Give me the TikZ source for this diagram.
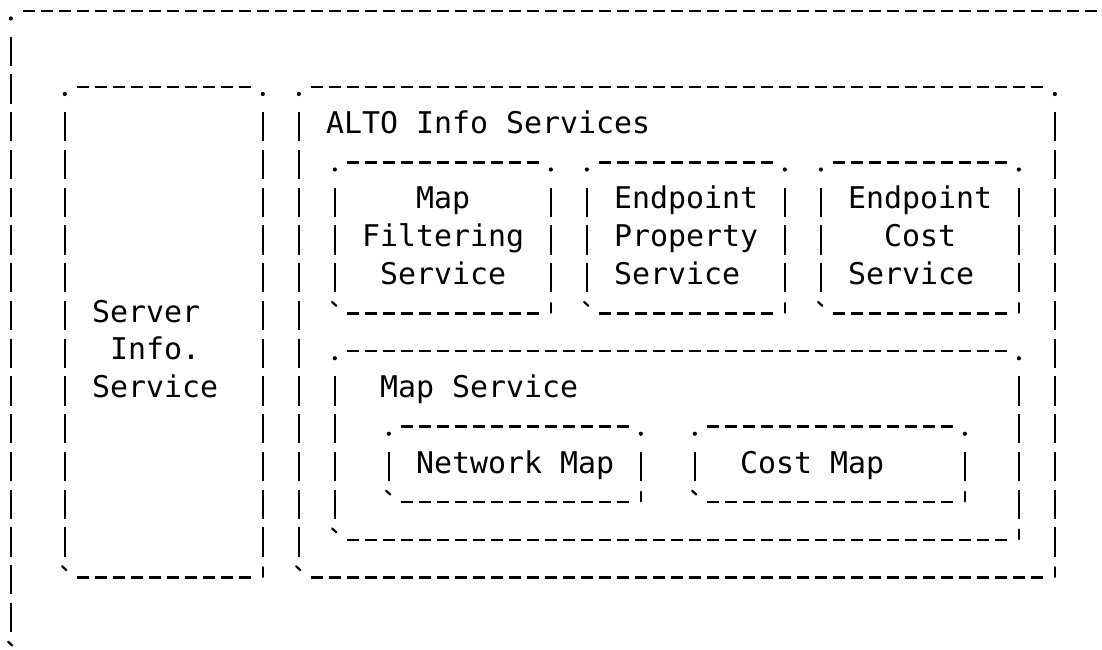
\documentclass[tikz,border=0pt]{standalone}
\usepackage{fontspec}
\newfontfamily\asciifont{DejaVu Sans Mono}

\tikzset{
  hdash/.style={line width=1.2pt, dash pattern=on 6.15pt off 2.85pt},
  vdash/.style={line width=1.3pt, dash pattern=on 14.65pt off 4.225pt},
  tick/.style={line width=1.1pt, line cap=round},
  boxtext/.style={anchor=base west, inner sep=0pt,
    font=\asciifont\fontsize{14.95pt}{18pt}\selectfont},
}

% box drawn like ASCII art: #1,#2 = left column / top row, #3,#4 = right column / bottom row
\newcommand\asciibox[4]{%
  \draw[hdash] (#1+0.658,#2-0.06) -- (#3-0.658,#2-0.06);
  \draw[hdash] (#1+0.658,#4-0.06) -- (#3-0.658,#4-0.06);
  \draw[vdash] (#1,#2+0.612) -- (#1,#4-0.612);
  \draw[vdash] (#3,#2+0.612) -- (#3,#4-0.612);
  \fill (#1,#2+0.13) circle[radius=1.05pt];
  \fill (#3,#2+0.13) circle[radius=1.05pt];
  \draw[tick] (#1-0.15,#4-0.36) -- (#1+0.08,#4-0.26);
  \draw[tick, line width=1.3pt] (#3,#4-0.33) -- (#3,#4-0.08);
}

\begin{document}
\begin{tikzpicture}[x=9pt, y=-18.875pt]
			\clip (-0.6,-0.359) rectangle (60.62,16.833);

			% Riquadri
			\asciibox{0}{0}{64}{17}
			\asciibox{3}{2}{14}{15}
			\asciibox{16}{2}{58}{15}
			\asciibox{18}{4}{30}{8}
			\asciibox{32}{4}{43}{8}
			\asciibox{45}{4}{56}{8}
			\asciibox{18}{9}{56}{14}
			\asciibox{21}{11}{35}{13}
			\asciibox{38}{11}{53}{13}

			% Testi
			\node[boxtext] (srv1) at (4.5,8.172) {Server};
			\node[boxtext] (srv2) at (5.5,9.172) {Info.};
			\node[boxtext] (srv3) at (4.5,10.172) {Service};

			\node[boxtext] (alto) at (17.5,3.172) {ALTO Info Services};

			\node[boxtext] (filt1) at (22.5,5.172) {Map};
			\node[boxtext] (filt2) at (19.5,6.172) {Filtering};
			\node[boxtext] (filt3) at (20.5,7.172) {Service};

			\node[boxtext] (prop1) at (33.5,5.172) {Endpoint};
			\node[boxtext] (prop2) at (33.5,6.172) {Property};
			\node[boxtext] (prop3) at (33.5,7.172) {Service};

			\node[boxtext] (ecost1) at (46.5,5.172) {Endpoint};
			\node[boxtext] (ecost2) at (48.5,6.172) {Cost};
			\node[boxtext] (ecost3) at (46.5,7.172) {Service};

			\node[boxtext] (mapsvc) at (20.5,10.172) {Map Service};
			\node[boxtext] (netmap) at (22.5,12.172) {Network Map};
			\node[boxtext] (costmap) at (40.5,12.172) {Cost Map};

\end{tikzpicture}
\end{document}
